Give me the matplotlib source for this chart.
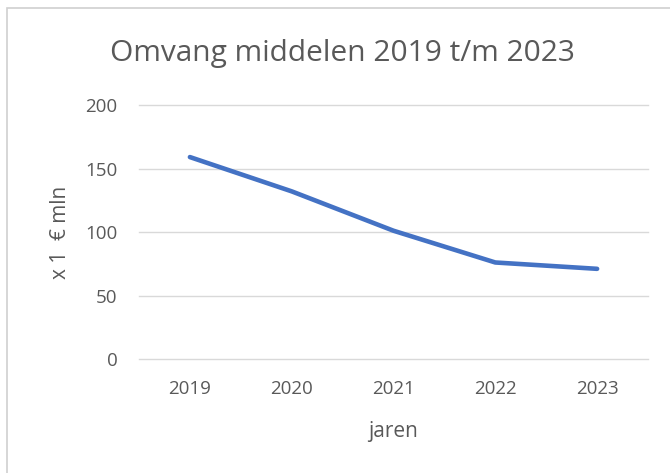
import matplotlib
matplotlib.use("Agg")
import matplotlib.pyplot as plt
from matplotlib.patches import Rectangle

# data
years = ["2019", "2020", "2021", "2022", "2023"]
values = [159, 132, 101, 76, 71]
y_ticks = [0, 50, 100, 150, 200]

TEXT = "#595959"
GRID = "#d9d9d9"
LINE = "#4472c4"

plt.rcParams["font.family"] = ["Open Sans", "DejaVu Sans"]

fig = plt.figure(figsize=(6.7, 4.73), dpi=100)
W, H = 670, 473

# chart frame, runs off the right and bottom edges like the screenshot
fig.patches.append(Rectangle((7 / W, -0.05), 1.1, 1 - 8 / H + 0.05,
                             transform=fig.transFigure, fill=False,
                             edgecolor="#d0d0d0", linewidth=1.2))

ax = fig.add_axes([139 / W, 1 - 359 / H, (648 - 139) / W, (359 - 105) / H])
x = range(len(years))
ax.plot(x, values, color=LINE, linewidth=3.3, solid_capstyle="round",
        solid_joinstyle="round", zorder=3)

ax.set_xlim(-0.5, len(years) - 0.5)
ax.set_ylim(0, 200)
ax.set_yticks(y_ticks)
ax.set_xticks(list(x))
ax.set_xticklabels(years)
ax.grid(True, axis="y", color=GRID, linewidth=1.0)
for gl in ax.get_ygridlines():
    gl.set_clip_on(False)
ax.set_axisbelow(True)
for s in ax.spines.values():
    s.set_visible(False)
ax.tick_params(length=0, labelsize=13.5, labelcolor=TEXT)
ax.tick_params(axis="x", pad=15)
ax.tick_params(axis="y", pad=15.5)

ax.set_xlabel("jaren", fontsize=15, color=TEXT, labelpad=17)
ax.set_ylabel("x 1  € mln", fontsize=15, color=TEXT, labelpad=10)

fig.text(342 / W, 1 - 54 / H, "Omvang middelen 2019 t/m 2023",
         ha="center", va="center", fontsize=21.5, color=TEXT)

fig.savefig("out.png", dpi=100, facecolor="white")
